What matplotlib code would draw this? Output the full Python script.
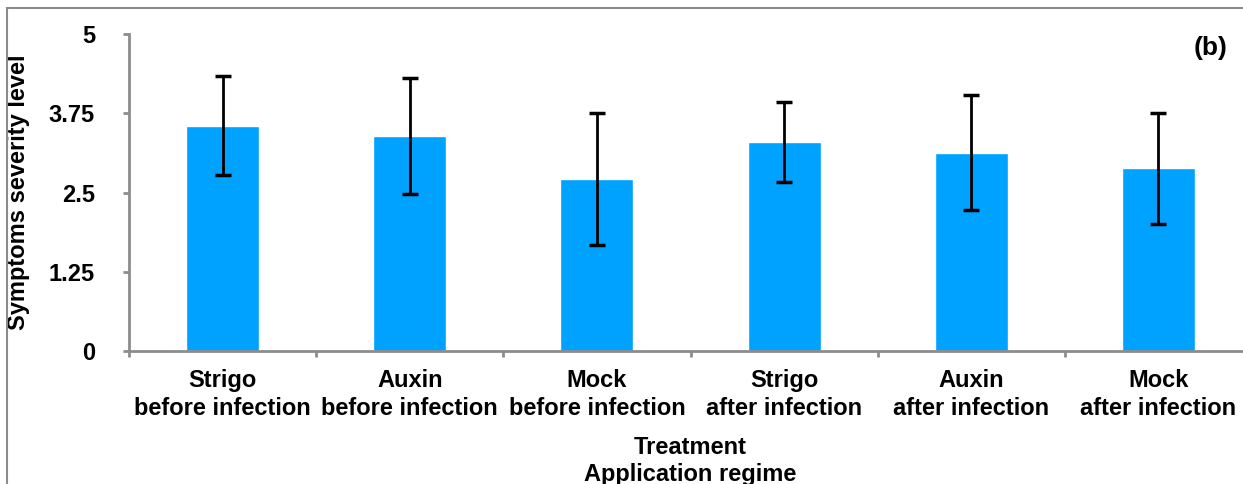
import matplotlib.pyplot as plt
from matplotlib.patches import Rectangle

plt.rcParams['font.family'] = ['Liberation Sans', 'DejaVu Sans']

# --- Data ---
treatments = ["Strigo\nbefore infection", "Auxin\nbefore infection", "Mock\nbefore infection",
              "Strigo\nafter infection", "Auxin\nafter infection", "Mock\nafter infection"]
severity = [3.55, 3.39, 2.71, 3.30, 3.13, 2.88]
severity_err = [0.78, 0.91, 1.04, 0.63, 0.91, 0.87]
y_ticks = [0, 1.25, 2.5, 3.75, 5]
y_tick_labels = ["0", "1.25", "2.5", "3.75", "5"]

bar_color = "#00A2FF"
axis_grey = "#8C8C8C"

fig = plt.figure(figsize=(12.43, 4.84), dpi=100)

# Outer frame of the exported chart (only top and left edges visible)
fig.patches.append(Rectangle((7 / 1243, -0.1), 1.2, 1 - 8 / 484 + 0.1, transform=fig.transFigure,
                             fill=False, edgecolor=axis_grey, linewidth=1.5))

ax = fig.add_axes([129 / 1243, 1 - 351 / 484, 1123 / 1243, 317 / 484])

x = list(range(len(treatments)))
ax.bar(x, severity, width=0.39, color=bar_color, edgecolor="white", linewidth=1, zorder=2)
ax.errorbar(x, severity, yerr=severity_err, fmt="none", ecolor="black",
            elinewidth=2, capsize=6, capthick=2.5, zorder=3)

ax.set_xlim(-0.5, len(treatments) - 0.5)
ax.set_ylim(0, 5)
ax.set_yticks(y_ticks)
ax.set_yticklabels(y_tick_labels, fontsize=17, fontweight="bold")
ax.set_xticks(x)
ax.set_xticklabels(treatments, fontsize=17, fontweight="bold", linespacing=1.25)
ax.set_xticks([i - 0.5 for i in range(len(treatments) + 1)], minor=True)

ax.tick_params(axis="x", which="major", length=0, pad=13)
ax.tick_params(axis="x", which="minor", length=4.5, width=2, color=axis_grey, direction="out")
ax.tick_params(axis="y", length=4.5, width=2, color=axis_grey, direction="out", pad=20)

for side in ["top", "right"]:
    ax.spines[side].set_visible(False)
for side in ["left", "bottom"]:
    ax.spines[side].set_color(axis_grey)
    ax.spines[side].set_linewidth(2)

ax.set_ylabel("Symptoms severity level", fontsize=17, fontweight="bold")
ax.yaxis.set_label_coords(-(129 - 30) / 1123, 0.5)
ax.set_xlabel("Treatment\nApplication regime", fontsize=17, fontweight="bold", linespacing=1.25)
ax.xaxis.set_label_coords(0.5, -(436 - 351) / 317)

ax.text(1211 / 1243, 1 - 48 / 484, "(b)", transform=fig.transFigure, fontsize=19,
        fontweight="bold", ha="center", va="center")

fig.savefig("out.png", dpi=100)
